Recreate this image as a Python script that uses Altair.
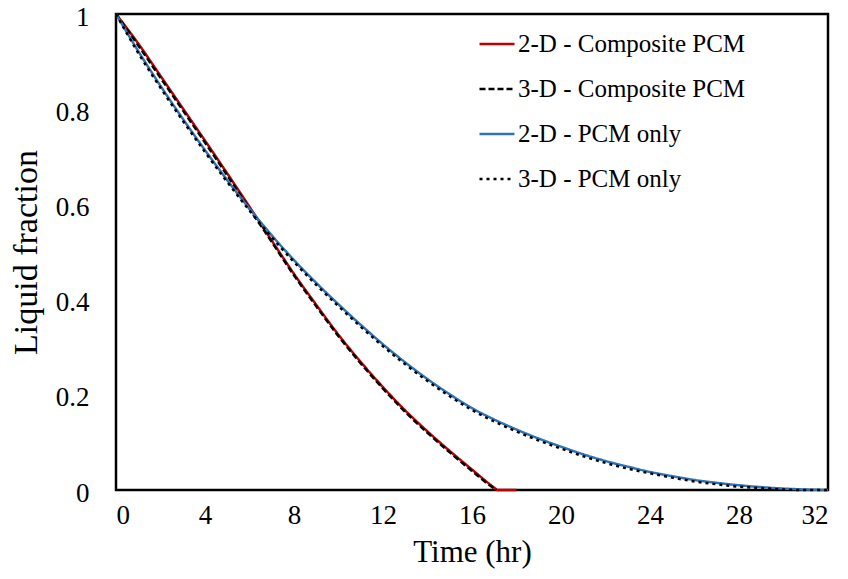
import altair as alt
import pandas as pd

series_names = ["2-D - Composite PCM", "3-D - Composite PCM", "2-D - PCM only", "3-D - PCM only"]

t_comp = [0, 1, 2, 3, 4, 5, 6, 7, 8, 9, 10, 11, 12, 13, 14, 15, 16, 17, 17.15, 18]
lf_2d_comp = [1.0, 0.938, 0.870, 0.802, 0.734, 0.665, 0.595, 0.524, 0.454, 0.389, 0.326,
              0.269, 0.216, 0.167, 0.123, 0.082, 0.043, 0.005, 0.0, 0.0]

t_comp3 = [0, 1, 2, 3, 4, 5, 6, 7, 8, 9, 10, 11, 12, 13, 14, 15, 16, 17, 17.1]
lf_3d_comp = [1.0, 0.934, 0.866, 0.798, 0.730, 0.661, 0.591, 0.521, 0.451, 0.386, 0.323,
              0.266, 0.213, 0.164, 0.120, 0.079, 0.040, 0.003, 0.0]

t_pcm = list(range(0, 33))
lf_2d_pcm = [1.0, 0.922, 0.849, 0.780, 0.714, 0.651, 0.591, 0.535, 0.483, 0.435, 0.390,
             0.347, 0.306, 0.268, 0.233, 0.201, 0.172, 0.148, 0.127, 0.108, 0.091,
             0.075, 0.061, 0.049, 0.038, 0.029, 0.021, 0.015, 0.010, 0.006, 0.003, 0.001, 0.0]
lf_3d_pcm = [1.0, 0.918, 0.845, 0.776, 0.710, 0.647, 0.587, 0.531, 0.479, 0.431, 0.386,
             0.343, 0.302, 0.264, 0.229, 0.197, 0.168, 0.144, 0.123, 0.104, 0.087,
             0.071, 0.057, 0.045, 0.035, 0.026, 0.018, 0.012, 0.007, 0.004, 0.001, 0.0, 0.0]

colors = ["#C00000", "#000000", "#2E75B6", "#000000"]
dashes = [[1, 0], [6, 3], [1, 0], [3, 4]]
widths = [2.5, 2.5, 3, 3.5]

rows = []
for name, ts, vals in [(series_names[0], t_comp, lf_2d_comp),
                       (series_names[1], t_comp3, lf_3d_comp),
                       (series_names[2], t_pcm, lf_2d_pcm),
                       (series_names[3], t_pcm, lf_3d_pcm)]:
    for t, v in zip(ts, vals):
        rows.append({"series": name, "t": t, "lf": v})
df = pd.DataFrame(rows)

font = "Liberation Serif"

legend_kw = dict(title=None, orient="none", legendX=362, legendY=18,
                 symbolType="stroke", symbolSize=1225, symbolStrokeWidth=2.5,
                 labelFontSize=25, labelFont=font, labelColor="black", labelOffset=2,
                 rowPadding=20, clipHeight=24, labelLimit=400)

chart = alt.Chart(df).mark_line(interpolate="monotone").encode(
    x=alt.X("t:Q", scale=alt.Scale(domain=[0, 32], nice=False),
            axis=alt.Axis(values=[0, 4, 8, 12, 16, 20, 24, 28, 32], title="Time (hr)",
                          labelFontSize=27, titleFontSize=31, labelPadding=12,
                          titlePadding=9)),
    y=alt.Y("lf:Q", scale=alt.Scale(domain=[0, 1], nice=False),
            axis=alt.Axis(values=[0, 0.2, 0.4, 0.6, 0.8, 1], format="~g", title="Liquid fraction",
                          labelFontSize=27, titleFontSize=34, labelPadding=27,
                          labelOffset=3, titlePadding=12)),
    color=alt.Color("series:N", scale=alt.Scale(domain=series_names, range=colors),
                    legend=alt.Legend(**legend_kw)),
    strokeDash=alt.StrokeDash("series:N", scale=alt.Scale(domain=series_names, range=dashes),
                              legend=alt.Legend(**legend_kw)),
    strokeWidth=alt.StrokeWidth("series:N", scale=alt.Scale(domain=series_names, range=widths),
                                legend=None),
).properties(
    width=712, height=476,
    autosize=alt.AutoSizeParams(type="none"),
    padding={"left": 108, "top": 6, "right": 12, "bottom": 85},
).configure_view(
    stroke="black", strokeWidth=2.5
).configure_axis(
    domain=False, ticks=False, grid=False,
    labelFont=font, titleFont=font, labelColor="black", titleColor="black",
    titleFontWeight="normal"
)

chart.save("out.html", embed_options={"renderer": "svg", "actions": False})
